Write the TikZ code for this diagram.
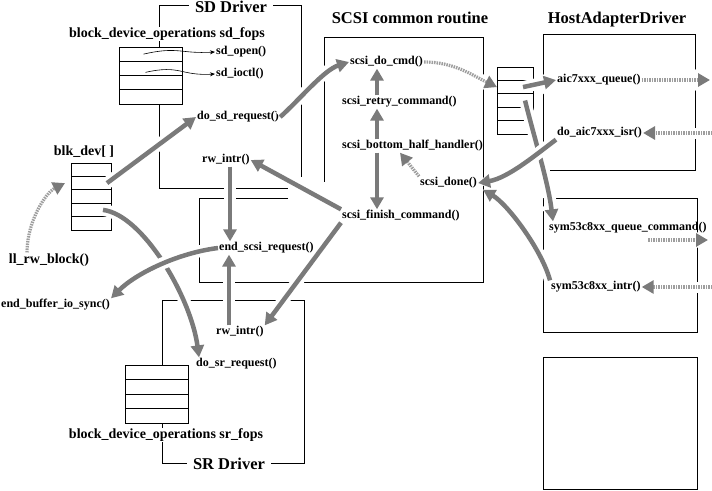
\documentclass[tikz,border=0pt]{standalone}
\usepackage{fontspec}
\setmainfont{Liberation Serif}
\usetikzlibrary{arrows.meta}

\newcommand{\labfont}{\bfseries\fontsize{12}{14}\selectfont}
\newcommand{\bigfont}{\bfseries\fontsize{14}{16}\selectfont}
\newcommand{\titfont}{\bfseries\fontsize{16.5}{19}\selectfont}

\tikzset{
	frame/.style={line width=1pt},
	cell/.style={draw, line width=1pt, fill=white, inner sep=0pt, outer sep=0pt},
	title/.style={font=\titfont, fill=white, inner xsep=6pt, anchor=base},
	heavy/.style={draw=black!52, line width=4.5pt, -{Triangle[width=13pt,length=12pt]},
		preaction={draw=white, solid, line width=12pt, -{Triangle[width=22pt,length=16pt]}}},
	light/.style={draw=black!38, line width=3.2pt, dash pattern=on 1.5pt off 1pt, -{Triangle[width=13pt,length=12pt,color=black!52]},
		preaction={draw=white, solid, line width=11pt, -{Triangle[width=22pt,length=16pt]}}},
	thin/.style={line width=0.6pt, -{Stealth[length=5pt,width=4pt]}}
}

\begin{document}
\begin{tikzpicture}[x=1pt, y=-1pt, every node/.style={font=\labfont, inner sep=1pt}]
	\useasboundingbox (0,0) rectangle (712,490);
	% frames
	\draw[frame] (159,188) -- (159,5) -- (301,5) -- (301,177);
	\draw[frame] (159,188) -- (288,188);
	\draw[frame] (288,198) -- (199,198) -- (199,282) -- (483,282) -- (483,37) -- (324,37) -- (324,182);
	\draw[frame] (162,463) -- (162,300) -- (304,300) -- (304,463) -- cycle;
	\draw[frame] (543,34) rectangle (695,170);
	\draw[frame] (543,198) rectangle (697,332);
	\draw[frame] (543,357) rectangle (697,489);
	% titles
	\node[title] (sdtitle) at (231,12) {SD Driver};
	\node[title] (srtitle) at (229,469) {SR Driver};
	\node[title] (scsititle) at (410,23) {SCSI common routine};
	\node[title] (hatitle) at (617,23) {HostAdapterDriver};
	% tables
	\foreach \i in {1,...,4} {
		\node[cell, minimum width=63pt, minimum height=14.25pt] (sd\i) at (150.5,{47+14.25*(\i-0.5)}) {};
		\node[cell, minimum width=63pt, minimum height=14.5pt] (sr\i) at (156.5,{365+14.5*(\i-0.5)}) {};
	}
	\foreach \i in {1,...,5} {
		\node[cell, minimum width=40pt, minimum height=13.4pt] (blk\i) at (91,{163+13.4*(\i-0.5)}) {};
		\node[cell, minimum width=36pt, minimum height=13.4pt] (hat\i) at (515,{67+13.4*(\i-0.5)}) {};
	}
	% labels
	\node[font=\bigfont, fill=white] (sdfops) at (167,34) {block\_device\_operations sd\_fops};
	\node[font=\bigfont, fill=white] (srfops) at (166,435) {block\_device\_operations sr\_fops};
	\node[font=\bigfont] (blkdev) at (84,152) {blk\_dev[\ ]};
	\node[font=\bigfont] (llrw) at (49,260) {ll\_rw\_block()};
	\node[anchor=west] (sdopen) at (215,52) {sd\_open()};
	\node[anchor=west] (sdioctl) at (215,74) {sd\_ioctl()};
	\node[anchor=west] (dosd) at (196,117) {do\_sd\_request()};
	\node[anchor=west] (rwup) at (201,160) {rw\_intr()};
	\node[anchor=west] (endscsi) at (218,248) {end\_scsi\_request()};
	\node[anchor=west] (rwlow) at (215,332) {rw\_intr()};
	\node[anchor=west] (dosr) at (195,364) {do\_sr\_request()};
	\node[anchor=west] (endbuf) at (0,305) {end\_buffer\_io\_sync()};
	\node[anchor=west] (docmd) at (349,62) {scsi\_do\_cmd()};
	\node[anchor=west] (retry) at (341,102) {scsi\_retry\_command()};
	\node[anchor=west] (bhh) at (341,146) {scsi\_bottom\_half\_handler()};
	\node[anchor=west] (done) at (419,183) {scsi\_done()};
	\node[anchor=west] (finish) at (341,216) {scsi\_finish\_command()};
	\node[anchor=west] (aicq) at (556,80) {aic7xxx\_queue()};
	\node[anchor=west] (aicisr) at (556,133) {do\_aic7xxx\_isr()};
	\node[anchor=west] (symq) at (548,228) {sym53c8xx\_queue\_command()};
	\node[anchor=west] (symi) at (550,287) {sym53c8xx\_intr()};
	\coordinate (aicout) at (710,80);
	\coordinate (aicin) at (712,133);
	\coordinate (symtail) at (648,240);
	\coordinate (symout) at (708,240);
	\coordinate (symin) at (712,287);
	% fops pointers
	\draw[thin] ([xshift=-7pt]sd1.center) .. controls +(35,-8) and +(-35,2) .. (sdopen.west);
	\draw[thin] ([xshift=-5pt,yshift=-4pt]sd2.center) .. controls +(35,-8) and +(-35,2) .. (sdioctl.west);
	% SD / SR side
	\draw[heavy] ([xshift=-4pt]blk2.east) -- (dosd.west);
	\draw[heavy] (dosd.east) .. controls +(20,-18) and +(-25,8) .. (docmd.west);
	\draw[heavy] ([xshift=-8pt]blk4.east) .. controls +(40,5) and +(-8,-60) .. ([xshift=4pt]dosr.north west);
	\draw[heavy] (endscsi.west) .. controls +(-40,5) and +(25,-25) .. (endbuf.north east);
	\draw[light] ([xshift=-22pt]llrw.north) .. controls +(0,-30) and +(-20,10) .. ([xshift=-6pt]blk2.west);
	\draw[heavy] ([xshift=29pt]rwup.south west) -- ([xshift=12pt]endscsi.north west);
	\draw[heavy] ([xshift=14pt]rwlow.north west) -- ([xshift=11pt]endscsi.south west);
	\draw[heavy] (finish.north west) -- (rwup.east);
	\draw[heavy] (finish.south west) -- (rwlow.north east);
	% SCSI common routine
	\draw[heavy] ([xshift=36pt]retry.north west) -- ([xshift=28pt]docmd.south west);
	\draw[heavy] ([xshift=36pt]bhh.north west) -- ([xshift=36pt]retry.south west);
	\draw[heavy] ([xshift=36pt]bhh.south west) -- ([xshift=36pt]finish.north west);
	\draw[light] (done.north west) -- ([xshift=59pt]bhh.south west);
	\draw[light] (docmd.east) .. controls +(30,0) and +(-25,-12) .. (hat2.west);
	% host adapter side
	\draw[heavy] ([xshift=-10pt]hat2.east) -- (aicq.west);
	\draw[heavy] ([xshift=-8pt]hat3.east) .. controls +(10,40) and +(-5,-40) .. ([xshift=5pt]symq.north west);
	\draw[heavy] (aicisr.south west) .. controls +(-20,15) and +(30,-5) .. (done.east);
	\draw[heavy] (symi.north west) .. controls +(-8,-30) and +(25,15) .. ([xshift=5pt]done.south east);
	\draw[light] (aicq.east) -- (aicout);
	\draw[light] (aicin) -- (aicisr.east);
	\draw[light] (symtail) -- (symout);
	\draw[light] (symin) -- (symi.east);
\end{tikzpicture}
\end{document}
